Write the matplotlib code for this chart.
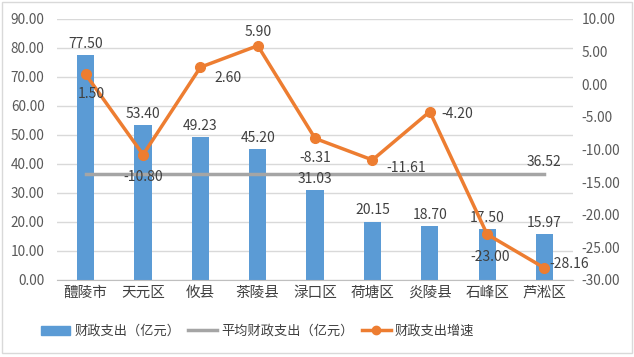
import matplotlib
matplotlib.use('Agg')
import matplotlib.pyplot as plt
from matplotlib.lines import Line2D
from matplotlib.patches import Patch

plt.rcParams['font.family'] = ['Noto Sans CJK SC', 'DejaVu Sans']

#----------------------------------------------------
# Data
#----------------------------------------------------
regions = ['醴陵市', '天元区', '攸县', '茶陵县', '渌口区', '荷塘区', '炎陵县', '石峰区', '芦淞区']
spending = [77.50, 53.40, 49.23, 45.20, 31.03, 20.15, 18.70, 17.50, 15.97]
avg_spending = 36.52
growth = [1.50, -10.80, 2.60, 5.90, -8.31, -11.61, -4.20, -23.00, -28.16]

# label offsets for the growth line (points)
growth_offsets = [(4, -14), (0, -16), (20, -8), (0, 10), (0, -14), (24, -6), (20, -2), (2, -16), (18, 3)]

txt = '#404040'
tick_c = '#595959'
blue = '#5B9BD5'
orange = '#ED7D31'
gray = '#A5A5A5'

fig = plt.figure(figsize=(6.34, 3.57), dpi=100)
ax = fig.add_axes([0.09, 0.2157, 0.814, 0.7313])
x = list(range(len(regions)))

ax.bar(x, spending, width=0.3, color=blue, zorder=2)
ax.plot([x[0], x[-1]], [avg_spending, avg_spending], color=gray, linewidth=2.5, zorder=3)
ax.set_ylim(0, 90)
ax.set_yticks(range(0, 91, 10))
ax.set_yticklabels(['%.2f' % v for v in range(0, 91, 10)], fontsize=9.8, color=tick_c)
ax.set_xlim(-0.5, len(regions) - 0.5)
ax.set_xticks(x)
ax.set_xticklabels(regions, fontsize=10.5, color=txt)
ax.grid(axis='y', color='#D9D9D9', linewidth=1, zorder=0)
ax.tick_params(axis='y', length=0, pad=9)
ax.tick_params(axis='x', length=0, pad=4)
for s in ['top', 'left', 'right']:
    ax.spines[s].set_visible(False)
ax.spines['bottom'].set_color('#BFBFBF')

for xi, v in zip(x, spending):
    ax.annotate('%.2f' % v, (xi, v), xytext=(0, 3), textcoords='offset points',
                ha='center', va='bottom', fontsize=10, color=txt, zorder=5)
ax.annotate('%.2f' % avg_spending, (x[-1], avg_spending), xytext=(0, 4), textcoords='offset points',
            ha='center', va='bottom', fontsize=10, color=txt, zorder=5)

ax2 = ax.twinx()
ax2.plot(x, growth, color=orange, linewidth=2.5, marker='o', markersize=7, zorder=4)
ax2.set_ylim(-30, 10)
ax2.set_yticks(range(-30, 11, 5))
ax2.set_yticklabels(['%.2f' % v for v in range(-30, 11, 5)], fontsize=9.8, color=tick_c)
ax2.tick_params(length=0, pad=6)
for s in ['top', 'left', 'right', 'bottom']:
    ax2.spines[s].set_visible(False)
for xi, v, off in zip(x, growth, growth_offsets):
    ax2.annotate('%.2f' % v, (xi, v), xytext=off, textcoords='offset points',
                 ha='center', va='center', fontsize=10, color=txt, zorder=6)

handles = [Patch(color=blue),
           Line2D([], [], color=gray, linewidth=2.5),
           Line2D([], [], color=orange, linewidth=2.5, marker='o', markersize=6)]
labels = ['财政支出（亿元）', '平均财政支出（亿元）', '财政支出增速']
fig.legend(handles, labels, loc='center left', bbox_to_anchor=(0.065, 0.072), ncol=3, frameon=False,
           fontsize=9.5, labelcolor=txt, handlelength=2.2, columnspacing=0.6, handletextpad=0.3,
           borderaxespad=0, borderpad=0)

# outer border
fig.patches.append(plt.Rectangle((0.003, 0.01), 0.994, 0.985, transform=fig.transFigure,
                                 fill=False, edgecolor='#D9D9D9', linewidth=1))

fig.savefig('out.png', dpi=100)
